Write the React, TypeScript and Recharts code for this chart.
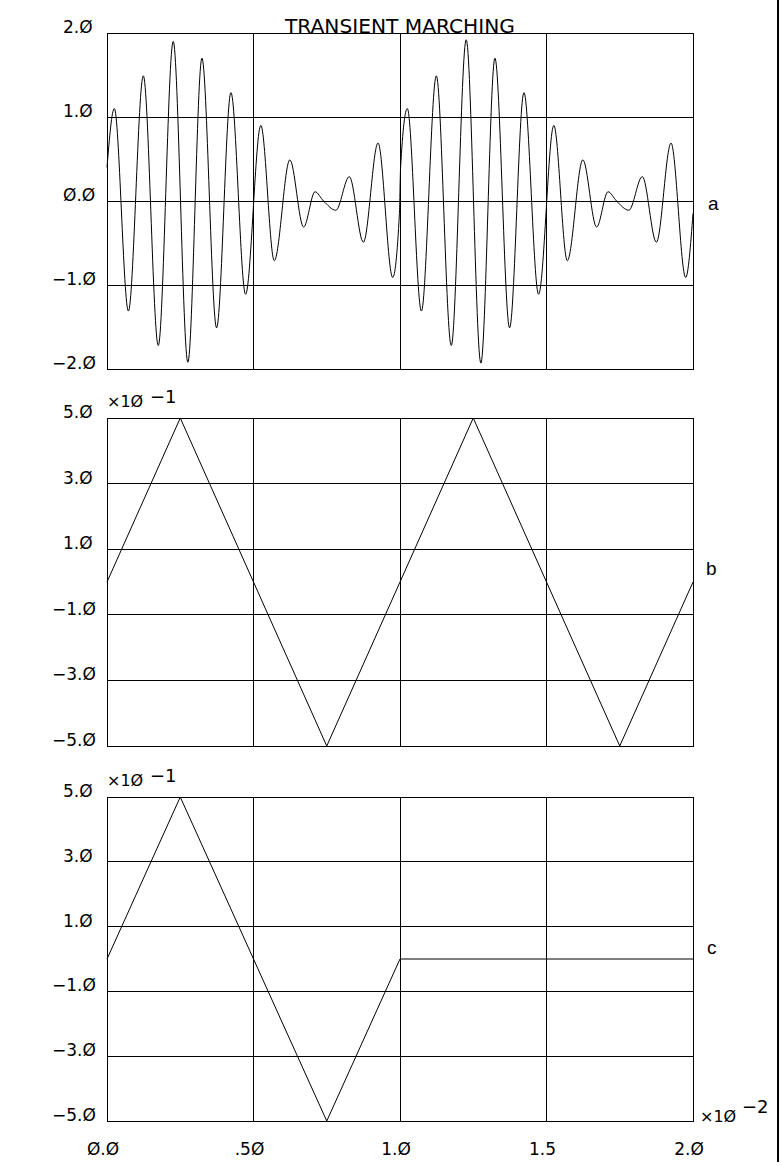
import React from "react";
import { CartesianGrid, Line, LineChart, ReferenceArea, XAxis, YAxis } from "recharts";

const timeTicks = [0, 0.5, 1.0, 1.5, 2.0];
const timeTickLabels = ["Ø.Ø", ".5Ø", "1.Ø", "1.5", "2.Ø"];

const aTicks = [-2, -1, 0, 1, 2];
const aTickLabels = ["−2.Ø", "−1.Ø", "Ø.Ø", "1.Ø", "2.Ø"];
const bcTicks = [-5, -3, -1, 1, 3, 5];
const bcTickLabels = ["−5.Ø", "−3.Ø", "−1.Ø", "1.Ø", "3.Ø", "5.Ø"];

// a: beating signal, peaks / troughs (two identical periods)
const aTimes = [
  0, 0.025, 0.073, 0.124, 0.175, 0.226, 0.276, 0.324, 0.374, 0.423, 0.473, 0.525,
  0.571, 0.624, 0.671, 0.71, 0.739, 0.781, 0.827, 0.875, 0.925, 0.975, 0.998,
  1.002, 1.025, 1.073, 1.124, 1.175, 1.226, 1.276, 1.324, 1.374, 1.423, 1.473, 1.525,
  1.571, 1.624, 1.671, 1.71, 1.739, 1.781, 1.827, 1.875, 1.925, 1.975, 2.0,
];
const aValues = [
  0.4, 1.1, -1.31, 1.49, -1.72, 1.9, -1.92, 1.7, -1.51, 1.29, -1.11, 0.9,
  -0.71, 0.49, -0.31, 0.11, 0.0, -0.11, 0.29, -0.49, 0.69, -0.91, -0.15,
  0.4, 1.1, -1.31, 1.49, -1.72, 1.92, -1.93, 1.7, -1.51, 1.29, -1.11, 0.9,
  -0.71, 0.49, -0.31, 0.11, 0.0, -0.11, 0.29, -0.49, 0.69, -0.91, -0.15,
];

// b, c: values in units of 1e-1
const bTimes = [0, 0.25, 0.5, 0.75, 1.0, 1.25, 1.5, 1.75, 2.0];
const bValues = [0, 5, 0, -5, 0, 5, 0, -5, 0];
const cTimes = [0, 0.25, 0.5, 0.75, 1.0, 2.0];
const cValues = [0, 5, 0, -5, 0, 0];

const rows = (t: number[], v: number[]) => t.map((x, i) => ({ t: x, v: v[i] }));

const FONT = "'DejaVu Sans', sans-serif";
const SIDE = "'Liberation Sans', sans-serif";

const yTick = (ticks: number[], labels: string[]) => (props: any) => {
  const { y, payload } = props;
  const label = labels[ticks.indexOf(payload.value)];
  return (
    <text x={payload.value < 0 ? 52 : 63} y={y} fontSize={17} fontFamily={FONT} fill="#000">
      {label}
    </text>
  );
};

const xTick = (props: any) => {
  const { x, payload } = props;
  const label = timeTickLabels[timeTicks.indexOf(payload.value)];
  return (
    <text x={x - 4} y={395} fontSize={17} fontFamily={FONT} fill="#000" textAnchor="middle">
      {label}
    </text>
  );
};

type PanelProps = {
  data: { t: number; v: number }[];
  ticks: number[];
  labels: string[];
  top: number;
  height: number;
  marginTop: number;
  marginBottom: number;
  curve: "monotone" | "linear";
  showX?: boolean;
};

function Panel({ data, ticks, labels, top, height, marginTop, marginBottom, curve, showX }: PanelProps) {
  const lo = ticks[0];
  const hi = ticks[ticks.length - 1];
  return (
    <div style={{ position: "absolute", left: 0, top, width: 782, height }}>
      <LineChart
        width={782}
        height={height}
        data={data}
        margin={{ top: marginTop, right: 89, bottom: marginBottom, left: 0 }}
      >
        <CartesianGrid stroke="#000" strokeWidth={1} shapeRendering="crispEdges" />
        <XAxis
          dataKey="t"
          type="number"
          domain={[0, 2]}
          ticks={timeTicks}
          interval={0}
          hide={!showX}
          height={45}
          axisLine={false}
          tickLine={false}
          tick={xTick}
        />
        <YAxis
          type="number"
          domain={[lo, hi]}
          ticks={ticks}
          interval={0}
          width={107}
          axisLine={false}
          tickLine={false}
          tick={yTick(ticks, labels)}
        />
        <ReferenceArea
          x1={0}
          x2={2}
          y1={lo}
          y2={hi}
          fill="none"
          stroke="#000"
          strokeWidth={1}
          shapeRendering="crispEdges"
        />
        <Line
          dataKey="v"
          type={curve}
          stroke="#000"
          strokeWidth={1}
          dot={false}
          isAnimationActive={false}
        />
      </LineChart>
    </div>
  );
}

export default function App() {
  return (
    <div style={{ position: "absolute", left: 0, top: 0, width: 782, height: 1166, background: "#fff" }}>
      <Panel data={rows(aTimes, aValues)} ticks={aTicks} labels={aTickLabels} top={0} height={380} marginTop={33} marginBottom={11} curve="monotone" />
      <Panel data={rows(bTimes, bValues)} ticks={bcTicks} labels={bcTickLabels} top={380} height={380} marginTop={38} marginBottom={14} curve="linear" />
      <Panel data={rows(cTimes, cValues)} ticks={bcTicks} labels={bcTickLabels} top={760} height={406} marginTop={37} marginBottom={0} curve="linear" showX />
      <svg width={782} height={1166} style={{ position: "absolute", left: 0, top: 0, pointerEvents: "none" }}>
        <text x={400} y={33} fontSize={20} fontFamily={FONT} textAnchor="middle" textLength={230} lengthAdjust="spacingAndGlyphs">
          TRANSIENT MARCHING
        </text>
        <text x={708} y={210} fontSize={19} fontFamily={SIDE}>a</text>
        <text x={706} y={575} fontSize={19} fontFamily={SIDE}>b</text>
        <text x={707} y={954} fontSize={19} fontFamily={SIDE}>c</text>
        <text x={107} y={407} fontSize={16} fontFamily={FONT}>×1Ø</text>
        <text x={150} y={403} fontSize={18} fontFamily={FONT}>−1</text>
        <text x={107} y={786} fontSize={16} fontFamily={FONT}>×1Ø</text>
        <text x={150} y={782} fontSize={18} fontFamily={FONT}>−1</text>
        <text x={700} y={1122} fontSize={16} fontFamily={FONT}>×1Ø</text>
        <text x={742} y={1113} fontSize={18} fontFamily={FONT}>−2</text>
        <line x1={778} y1={0} x2={778} y2={1162} stroke="#000" strokeWidth={2} />
      </svg>
    </div>
  );
}
